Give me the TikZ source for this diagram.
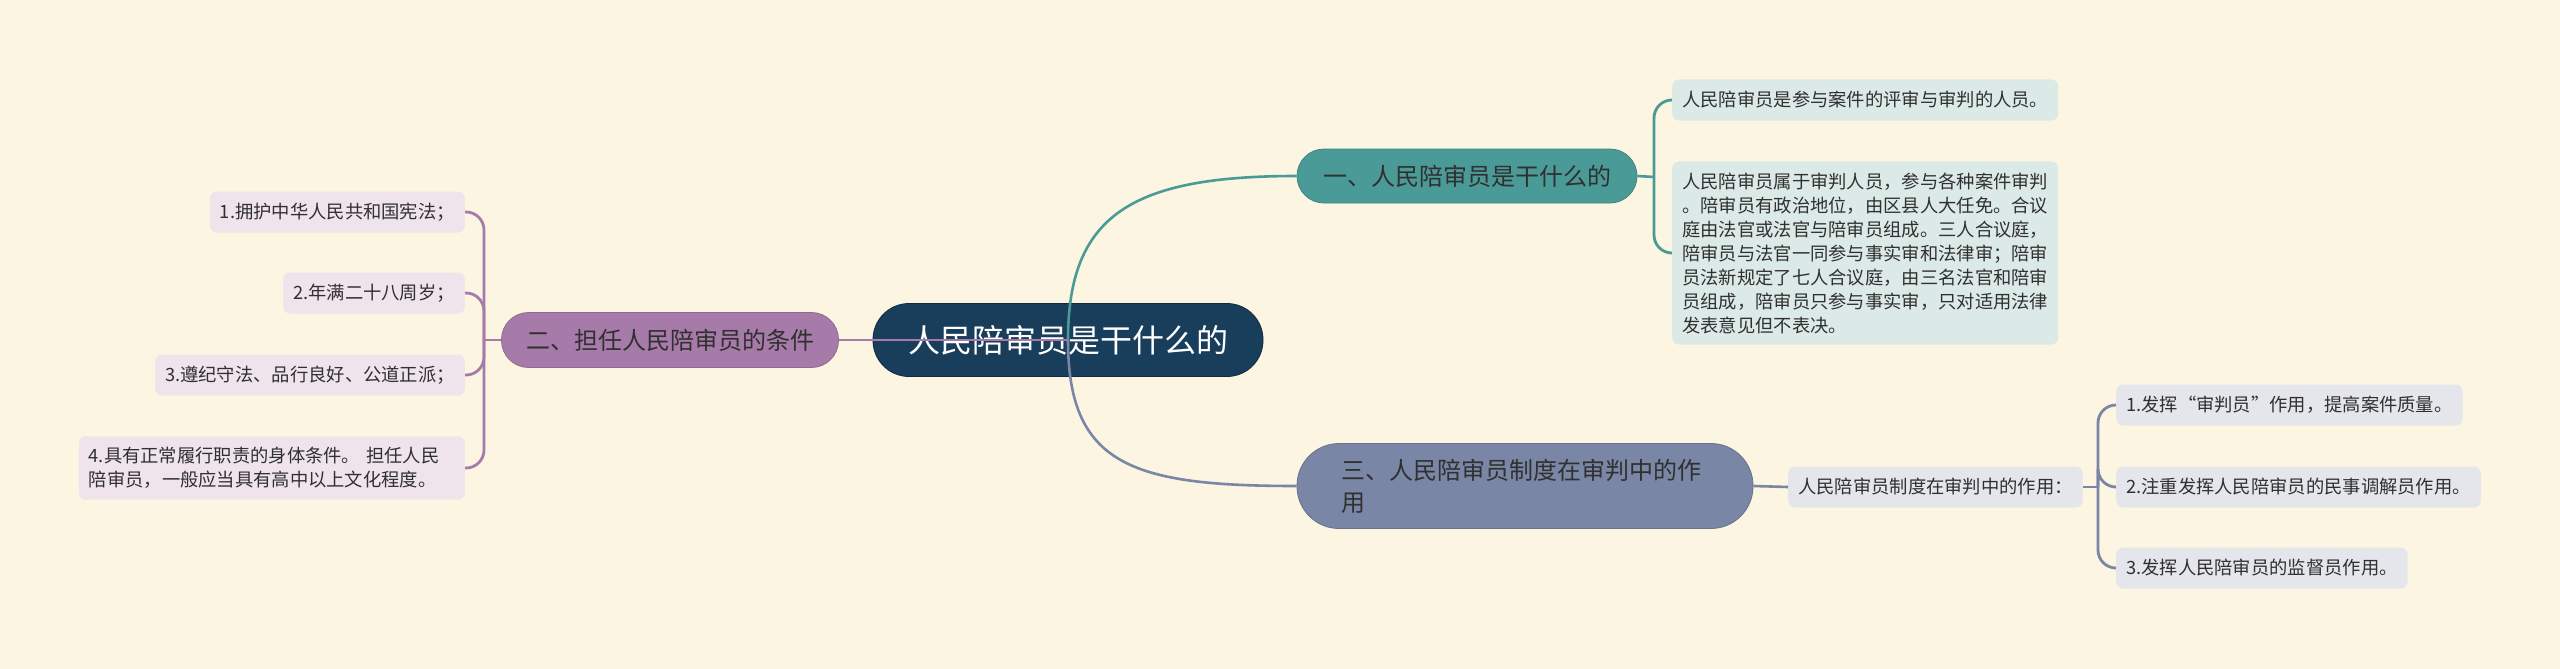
\documentclass[tikz,border=0pt]{standalone}
\usepackage{fontspec}
\newfontfamily\zhfont{Noto Sans CJK SC}
\definecolor{bgcream}{HTML}{FBF5E1}
\definecolor{rootblue}{HTML}{183E5C}
\definecolor{tealb}{HTML}{4A9A98}
\definecolor{purpleb}{HTML}{A77BA9}
\definecolor{slateb}{HTML}{7A86A6}
\definecolor{tealleaf}{HTML}{DCEAE7}
\definecolor{purpleleaf}{HTML}{EFE4EC}
\definecolor{slateleaf}{HTML}{E4E6EC}
\definecolor{inkdark}{HTML}{303030}
\newcommand{\zhlq}{\makebox[1em][r]{“}}
\newcommand{\zhrq}{\makebox[1em][l]{”}}
\begin{document}
\begin{tikzpicture}[x=1pt, y=-1pt,
  pill/.style={rectangle, inner sep=0pt, line width=0.8pt, text=inkdark, font=\zhfont\fontsize{24}{32}\selectfont},
  leaf/.style={rectangle, rounded corners=7pt, inner xsep=10pt, inner ysep=11pt, minimum height=41pt, align=left, text=inkdark, font=\zhfont\fontsize{18.3}{24}\selectfont},
  link/.style={line width=2.6pt},
  brace/.style={line width=2.8pt, rounded corners=18pt}]
\fill[bgcream] (0,0) rectangle (2560,669);
% centre and main branches
\node[pill, fill=rootblue, draw=rootblue!70!black, text=white, rounded corners=36pt, minimum width=390pt, minimum height=73pt, font=\zhfont\fontsize{32}{36}\selectfont] (root) at (1068,340) {人民陪审员是干什么的};
\node[pill, fill=tealb, draw=tealb!85!black, rounded corners=27pt, minimum width=340pt, minimum height=54pt] (what) at (1467,176) {一、人民陪审员是干什么的};
\node[pill, fill=purpleb, draw=purpleb!85!black, rounded corners=27pt, minimum width=337pt, minimum height=55pt] (cond) at (670,340) {二、担任人民陪审员的条件};
\node[pill, fill=slateb, draw=slateb!85!black, rounded corners=42pt, minimum width=456pt, minimum height=85pt, text width=368pt, align=left, inner xsep=44pt] (role) at (1525,486) {三、人民陪审员制度在审判中的作\\用};
% leaves
\node[leaf, fill=tealleaf, anchor=west] (what1) at (1672,100) {人民陪审员是参与案件的评审与审判的人员。};
\node[leaf, fill=tealleaf, anchor=west] (what2) at (1672,253) {人民陪审员属于审判人员，参与各种案件审判\\。陪审员有政治地位，由区县人大任免。合议\\庭由法官或法官与陪审员组成。三人合议庭，\\陪审员与法官一同参与事实审和法律审；陪审\\员法新规定了七人合议庭，由三名法官和陪审\\员组成，陪审员只参与事实审，只对适用法律\\发表意见但不表决。};
\node[leaf, fill=purpleleaf, anchor=east] (cond1) at (465,212) {1.拥护中华人民共和国宪法；};
\node[leaf, fill=purpleleaf, anchor=east] (cond2) at (465,293) {2.年满二十八周岁；};
\node[leaf, fill=purpleleaf, anchor=east] (cond3) at (465,375) {3.遵纪守法、品行良好、公道正派；};
\node[leaf, fill=purpleleaf, anchor=east, text width=366pt] (cond4) at (465,468) {4.具有正常履行职责的身体条件。 担任人民\\陪审员，一般应当具有高中以上文化程度。};
\node[leaf, fill=slateleaf, anchor=west] (rolesum) at (1788,487) {人民陪审员制度在审判中的作用：};
\node[leaf, fill=slateleaf, anchor=west] (role1) at (2116,405) {1.发挥\zhlq 审判员\zhrq 作用，提高案件质量。};
\node[leaf, fill=slateleaf, anchor=west] (role2) at (2116,487) {2.注重发挥人民陪审员的民事调解员作用。};
\node[leaf, fill=slateleaf, anchor=west] (role3) at (2116,568) {3.发挥人民陪审员的监督员作用。};
\coordinate (jwhat) at (1654,177);
\coordinate (jcond) at (484,340);
\coordinate (jrole) at (2098,487);
% connectors
\draw[link, tealb] (root.center) .. controls +(0,-125) and +(-165,0) .. (what.west);
\draw[link, slateb] (root.center) .. controls +(0,125) and +(-165,0) .. (role.west);
\draw[link, purpleb] (root.center) -- (cond.east);
\draw[link, tealb] (what.east) -- (jwhat);
\foreach \n in {1,2} \draw[brace, tealb] (jwhat) |- (what\n.west);
\draw[link, purpleb] (cond.west) -- (jcond);
\foreach \n in {1,...,4} \draw[brace, purpleb] (jcond) |- (cond\n.east);
\draw[link, slateb] (role.east) -- (rolesum.west);
\draw[link, slateb] (rolesum.east) -- (jrole);
\foreach \n in {1,2,3} \draw[brace, slateb] (jrole) |- (role\n.west);
\end{tikzpicture}
\end{document}
